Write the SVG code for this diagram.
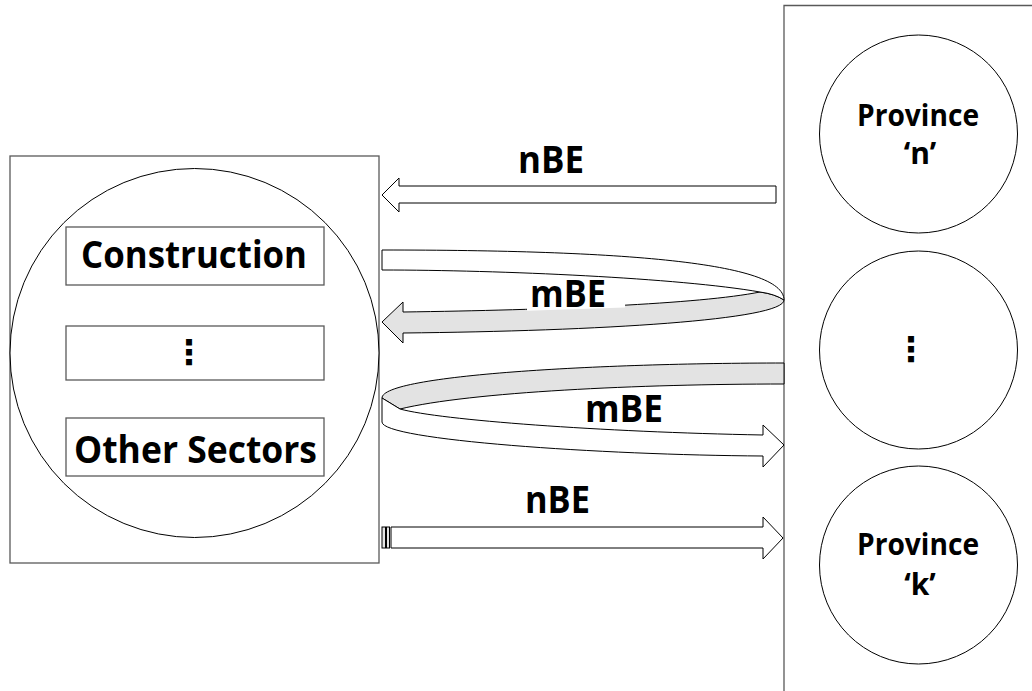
<svg xmlns="http://www.w3.org/2000/svg" width="1032" height="691" viewBox="0 0 1032 691">
<style>
.box{fill:#fff;stroke:#595959;stroke-width:1.3}
.oc{fill:#fff;stroke:#000;stroke-width:1}
.arw{fill:#fff;stroke:#000;stroke-width:1;stroke-linejoin:miter}
.gry{fill:#e3e3e3;stroke:#000;stroke-width:1;stroke-linejoin:miter}
.big{font-family:"Open Sans","Liberation Sans",sans-serif;font-weight:bold;font-size:37px;fill:#000}
.prov{font-family:"Open Sans","Liberation Sans",sans-serif;font-weight:bold;font-size:30px;fill:#000}
.dots{font-family:"DejaVu Sans",sans-serif;font-weight:bold;font-size:34px;fill:#000}
</style>
<rect width="1032" height="691" fill="#fff"/>
<g id="sectors-box">
<rect class="box" x="10" y="156" width="369" height="407"/>
<circle class="oc" cx="194.5" cy="353" r="184.5"/>
</g>
<g id="construction">
<rect class="box" x="66" y="227" width="258" height="58"/>
<text class="big" x="81" y="268" textLength="226" lengthAdjust="spacingAndGlyphs">Construction</text>
</g>
<g id="sector-ellipsis">
<rect class="box" x="66" y="326" width="258" height="54"/>
<text class="dots" x="189" y="364" text-anchor="middle">⋮</text>
</g>
<g id="other-sectors">
<rect class="box" x="66" y="418" width="258" height="58"/>
<text class="big" x="74" y="463" textLength="243" lengthAdjust="spacingAndGlyphs">Other Sectors</text>
</g>
<g id="provinces-box">
<path class="box" d="M1040 5.5 H784 V700"/>
</g>
<g id="province-n">
<circle class="oc" cx="918.5" cy="134" r="99"/>
<text class="prov" x="857" y="126" textLength="122" lengthAdjust="spacingAndGlyphs">Province</text>
<text class="prov" x="920" y="164" text-anchor="middle">‘n’</text>
</g>
<g id="province-ellipsis">
<circle class="oc" cx="918.5" cy="350" r="99"/>
<text class="dots" x="911" y="361" text-anchor="middle">⋮</text>
</g>
<g id="province-k">
<circle class="oc" cx="918.5" cy="565" r="99"/>
<text class="prov" x="857" y="555" textLength="122" lengthAdjust="spacingAndGlyphs">Province</text>
<text class="prov" x="920" y="595" text-anchor="middle">‘k’</text>
</g>
<g id="connectors">
<path class="arw" d="M776 186 V203 H399 V212 L382 195 L399 178 V186 Z"/>
<text class="big" x="518" y="173" textLength="66" lengthAdjust="spacingAndGlyphs">nBE</text>
<path class="gry" d="M382 322 L403 302 V312 C550 310 700 304 760 292 Q775 294 784 300 C784 320 600 331 403 333 V343 Z"/>
<path class="arw" d="M382 250 C620 250 784 262 784 300 Q775 294 760 292 C680 278 500 270 382 270 Z"/>
<polygon fill="#fff" points="527,279 625,279 625,307.5 527,310.8"/>
<text class="big" x="530" y="307" textLength="76" lengthAdjust="spacingAndGlyphs">mBE</text>
<path class="gry" d="M784 363 C600 363 382 375 382 398 L400 409 C470 392 640 384 784 384 Z"/>
<path class="arw" d="M382 398 L400 409 C440 420 600 432 763 435 V425 L784 445 L763 467 V456 C600 455 382 440 382 422 Z"/>
<text class="big" x="585" y="422" textLength="78" lengthAdjust="spacingAndGlyphs">mBE</text>
<rect class="gry" x="382" y="527" width="3.5" height="21"/>
<rect class="gry" x="386.5" y="527" width="3" height="21"/>
<path class="arw" d="M391 527 H763 V517 L783 538 L763 559 V548 H391 Z"/>
<text class="big" x="525" y="513" textLength="65" lengthAdjust="spacingAndGlyphs">nBE</text>
</g>
</svg>
